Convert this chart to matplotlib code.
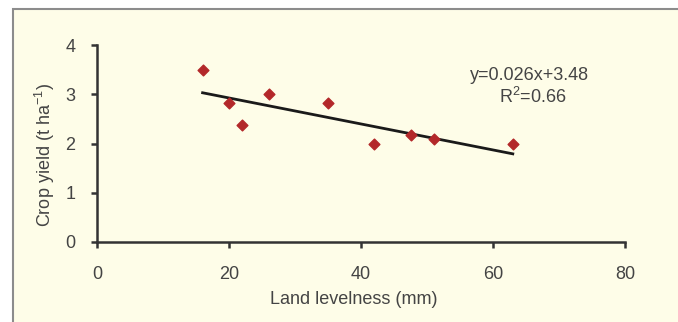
import matplotlib
matplotlib.use("Agg")
import matplotlib.pyplot as plt
from matplotlib.patches import Rectangle

# data
levelness = [16, 20, 22, 26, 35, 42, 47.5, 51, 63]
yield_t = [3.5, 2.83, 2.37, 3.0, 2.82, 1.98, 2.18, 2.1, 1.98]
trend_x = [16, 63]
trend_y = [3.03, 1.79]
eq_text = "y=0.026x+3.48"
r2_text = "R$^2$=0.66"
x_ticks = [0, 20, 40, 60, 80]
y_ticks = [0, 1, 2, 3, 4]

fam = "Liberation Sans"
plt.rcParams['font.family'] = [fam, "DejaVu Sans"]
plt.rcParams['mathtext.fontset'] = 'custom'
plt.rcParams['mathtext.rm'] = fam
plt.rcParams['mathtext.it'] = fam

W, H = 678, 322
fig = plt.figure(figsize=(W/100, H/100), dpi=100)
fig.patch.set_facecolor("white")
bg = Rectangle((12.5/W, -0.05), 1.0, (322-9)/H + 0.05, transform=fig.transFigure,
               facecolor="#FEFDE8", edgecolor="#8c8c8c", linewidth=1.5, zorder=-10)
fig.add_artist(bg)

ax = fig.add_axes([97/W, 80/H, 528/W, 197/H])
ax.set_zorder(1)
ax.set_facecolor("none")
ax.plot(trend_x, trend_y, color="#1a1a1a", linewidth=2, zorder=2)
ax.scatter(levelness, yield_t, marker="D", s=30, color="#B3282A", edgecolor="#B3282A", zorder=3)

ax.set_xlim(0, 80)
ax.set_ylim(0, 4)
ax.set_xticks(x_ticks)
ax.set_yticks(y_ticks)
for s in ["top", "right"]:
    ax.spines[s].set_visible(False)
for s in ["left", "bottom"]:
    ax.spines[s].set_color("#333333")
    ax.spines[s].set_linewidth(1.8)
ax.tick_params(axis="both", colors="#333333", labelcolor="#444444", labelsize=13,
               width=1.8, length=4.5, direction="out")
ax.tick_params(axis="x", pad=13)
ax.tick_params(axis="y", pad=11)
ax.set_xlabel("Land levelness (mm)", fontsize=13, color="#444444")
ax.set_ylabel("Crop yield (t ha$^{-1}$)", fontsize=13, color="#444444")
ax.xaxis.set_label_coords(0.487, -(299 - 242) / 197, transform=ax.transAxes)
ax.yaxis.set_label_coords(-(97 - 45) / 528, 0.44, transform=ax.transAxes)
ax.xaxis.label.set_va("center")
ax.yaxis.label.set_va("center")
ax.text(65.6, 3.39, eq_text, ha="center", va="center", fontsize=13, color="#444444")
ax.text(66.0, 2.95, r2_text, ha="center", va="center", fontsize=13, color="#444444")

fig.savefig("out.png", dpi=100)
